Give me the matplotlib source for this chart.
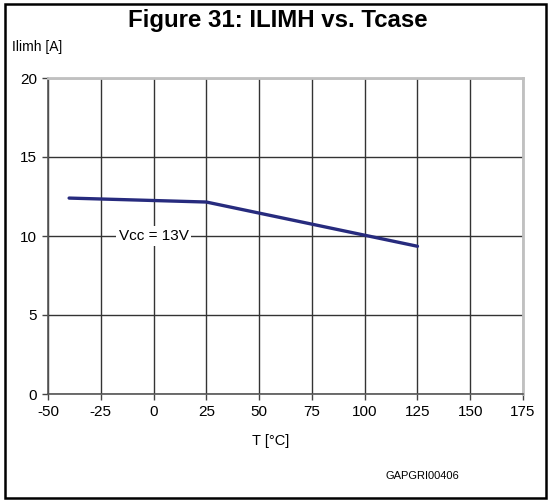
import matplotlib
matplotlib.use('Agg')
import matplotlib.pyplot as plt
from matplotlib.patches import Rectangle

plt.rcParams['font.family'] = ['Liberation Sans', 'DejaVu Sans']
plt.rcParams['axes.unicode_minus'] = False

# data
temp = [-40, 25, 100, 125]
ilimh = [12.4, 12.15, 10.05, 9.35]
xticks = [-50, -25, 0, 25, 50, 75, 100, 125, 150, 175]
yticks = [0, 5, 10, 15, 20]

fig = plt.figure(figsize=(5.48, 5.04), dpi=100)
ax = fig.add_axes([48/548, 1 - 394/504, 475/548, 316/504])

ax.plot(temp, ilimh, color='#272b7e', lw=2.4, solid_capstyle='round', zorder=3)

ax.set_xlim(-50, 175)
ax.set_ylim(0, 20)
ax.set_xticks(xticks)
ax.set_yticks(yticks)
ax.tick_params(labelsize=11, length=4, width=1, color='#444444', pad=4)
ax.grid(True, color='#333333', lw=1)
ax.set_axisbelow(True)

for s in ['left', 'bottom']:
    ax.spines[s].set_color('#555555')
    ax.spines[s].set_linewidth(1.2)
for s in ['top', 'right']:
    ax.spines[s].set_color('#c0c0c0')
    ax.spines[s].set_linewidth(2)

ax.text(0, 10, 'Vcc = 13V', fontsize=11, ha='center', va='center',
        bbox=dict(facecolor='white', edgecolor='none', pad=2), zorder=4)

fig.text(278/548, 1 - 21/504, 'Figure 31: ILIMH vs. Tcase', fontsize=17.3,
         fontweight='bold', ha='center', va='center')
fig.text(12/548, 1 - 47/504, 'Ilimh [A]', fontsize=10, ha='left', va='center')
fig.text(271/548, 1 - 441/504, 'T [°C]', fontsize=10.5, ha='center', va='center')
fig.text(385/548, 1 - 476/504, 'GAPGRI00406', fontsize=8, ha='left', va='center')

fig.patches.append(Rectangle((5/548, 6/504), 541/548, 494/504, transform=fig.transFigure,
                             fill=False, edgecolor='black', lw=1.8))

fig.savefig('out.png', dpi=100)
